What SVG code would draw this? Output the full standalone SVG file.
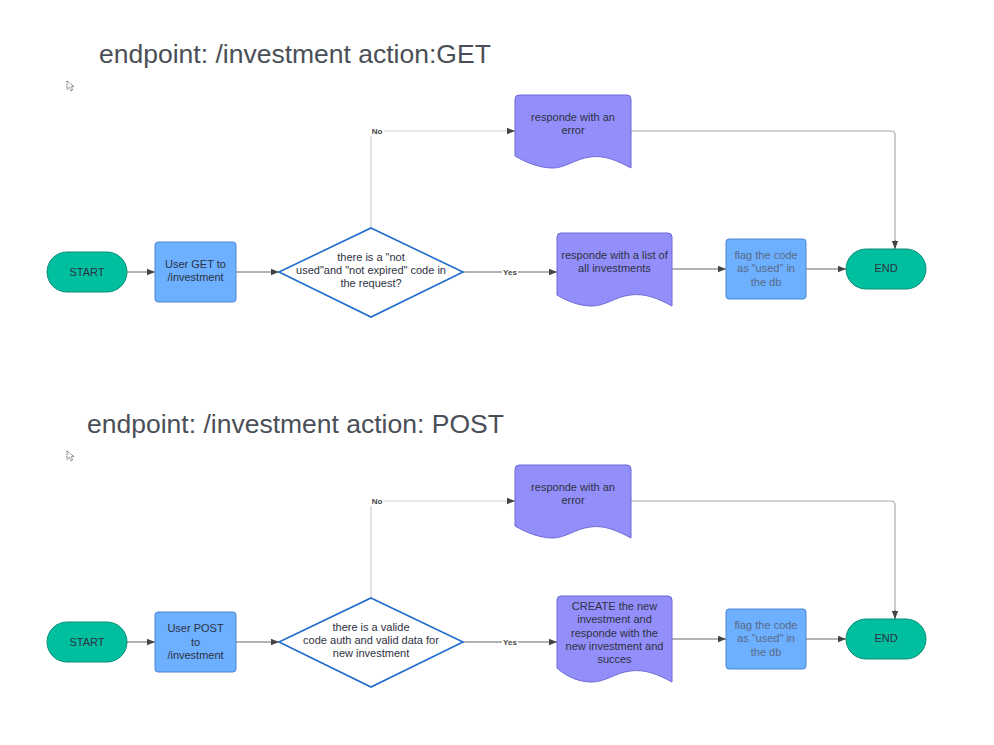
<svg xmlns="http://www.w3.org/2000/svg" width="994" height="745" viewBox="0 0 994 745">
<style>
.title{font-family:"Liberation Sans",Arial,sans-serif;font-size:26.5px;fill:#4a4f57}
.t{font-family:"Liberation Sans",Arial,sans-serif;font-size:11px;fill:#2d3142;text-anchor:middle}
.tf{font-family:"Liberation Sans",Arial,sans-serif;font-size:11px;fill:#5a6a86;text-anchor:middle}
.lbl{font-family:"Liberation Sans",Arial,sans-serif;font-size:8px;font-weight:bold;fill:#444;text-anchor:middle}
.term{fill:#00bf9f;stroke:#0f8d77;stroke-width:1}
.proc{fill:#6cb0ff;stroke:#4a86d6;stroke-width:1}
.doc{fill:#938ffa;stroke:#6e69d8;stroke-width:1}
.dec{fill:#ffffff;stroke:#1f6ccc;stroke-width:1.6}
.c{fill:none;stroke:#666;stroke-width:1}
.cl{fill:none;stroke:#cfcfcf;stroke-width:1.2}
.cb{fill:none;stroke:#aaa;stroke-width:1.2}
.cur{fill:#fff;stroke:#333;stroke-width:0.8;stroke-dasharray:1 0.6}
</style>
<defs>
<marker id="ah" viewBox="0 0 10 10" refX="10" refY="5" markerWidth="8" markerHeight="8" markerUnits="userSpaceOnUse" orient="auto">
<path d="M0,1 L10,5 L0,9 Z" fill="#444"/>
</marker>
</defs>
<rect width="994" height="745" fill="#ffffff"/>

<text class="title" x="99" y="63">endpoint: /investment action:GET</text>
<path class="cur" d="M67,81 L67,89.5 L69.3,87.4 L71,91 L72.6,90.2 L71,86.8 L74,86.6 Z"/>
<text class="title" x="87" y="433">endpoint: /investment action: POST</text>
<path class="cur" d="M67,451 L67,459.5 L69.3,457.4 L71,461 L72.6,460.2 L71,456.8 L74,456.6 Z"/>

<g id="connectors">
<!-- GET -->
<path class="c" d="M127,272 H155" marker-end="url(#ah)"/>
<path class="c" d="M236,272 H279" marker-end="url(#ah)"/>
<path class="cl" d="M371,228 V131 H515"/>
<path d="M507,131 H515" class="c" marker-end="url(#ah)"/>
<rect x="370" y="126" width="14" height="10" fill="#fff"/>
<text class="lbl" x="377" y="134">No</text>
<path class="c" d="M463,272 H557" marker-end="url(#ah)"/>
<rect x="502" y="267" width="16" height="10" fill="#fff"/>
<text class="lbl" x="510" y="275">Yes</text>
<path class="c" d="M672,269 H726" marker-end="url(#ah)"/>
<path class="c" d="M806,269 H846" marker-end="url(#ah)"/>
<path class="cb" d="M631,131 H891 Q895,131 895,135 V249"/>
<path class="c" d="M895,240 V249" marker-end="url(#ah)"/>
<!-- POST -->
<path class="c" d="M127,642 H155" marker-end="url(#ah)"/>
<path class="c" d="M236,642 H279" marker-end="url(#ah)"/>
<path class="cl" d="M371,598 V501 H515"/>
<path d="M507,501 H515" class="c" marker-end="url(#ah)"/>
<rect x="370" y="496" width="14" height="10" fill="#fff"/>
<text class="lbl" x="377" y="504">No</text>
<path class="c" d="M463,642 H557" marker-end="url(#ah)"/>
<rect x="502" y="637" width="16" height="10" fill="#fff"/>
<text class="lbl" x="510" y="645">Yes</text>
<path class="c" d="M672,639 H726" marker-end="url(#ah)"/>
<path class="c" d="M806,639 H846" marker-end="url(#ah)"/>
<path class="cb" d="M631,501 H891 Q895,501 895,505 V619"/>
<path class="c" d="M895,610 V619" marker-end="url(#ah)"/>
</g>

<!-- GET flow -->
<g id="get-start">
<rect class="term" x="47" y="252" width="80" height="40" rx="20"/>
<text class="t" x="87" y="276">START</text>
</g>
<g id="get-user">
<rect class="proc" x="155" y="242" width="81" height="60" rx="3"/>
<text class="t" x="195.5" y="268">User GET to</text>
<text class="t" x="195.5" y="281">/investment</text>
</g>
<g id="get-decision">
<polygon class="dec" points="371,228 463,272 371,317 279,272"/>
<text class="t" x="371" y="261">there is a "not</text>
<text class="t" x="371" y="274">used"and "not expired" code in</text>
<text class="t" x="371" y="287">the request?</text>
</g>
<g id="get-error">
<path class="doc" d="M515,99 Q515,95 519,95 H627 Q631,95 631,99 V168 C616,160 604,155 590,157 C575,159 565,168 553,168 C540,168 527,163 515,156 Z"/>
<text class="t" x="573" y="121">responde with an</text>
<text class="t" x="573" y="134">error</text>
</g>
<g id="get-list">
<path class="doc" d="M557,237 Q557,233 561,233 H668 Q672,233 672,237 V306 C657,298 645,293 630,295 C615,297 605,306 592,306 C579,306 567,301 557,295 Z"/>
<text class="t" x="614.5" y="259">responde with a list of</text>
<text class="t" x="614.5" y="272">all investments</text>
</g>
<g id="get-flag">
<rect class="proc" x="726" y="239" width="80" height="60" rx="3"/>
<text class="tf" x="766" y="259">flag the code</text>
<text class="tf" x="766" y="272">as "used" in</text>
<text class="tf" x="766" y="286">the db</text>
</g>
<g id="get-end">
<rect class="term" x="846" y="249" width="80" height="40" rx="20"/>
<text class="t" x="886" y="272">END</text>
</g>

<!-- POST flow -->
<g id="post-start">
<rect class="term" x="47" y="622" width="80" height="40" rx="20"/>
<text class="t" x="87" y="646">START</text>
</g>
<g id="post-user">
<rect class="proc" x="155" y="612" width="81" height="60" rx="3"/>
<text class="t" x="195.5" y="632">User POST</text>
<text class="t" x="195.5" y="646">to</text>
<text class="t" x="195.5" y="659">/investment</text>
</g>
<g id="post-decision">
<polygon class="dec" points="371,598 463,642 371,687 279,642"/>
<text class="t" x="371" y="631">there is a valide</text>
<text class="t" x="371" y="644">code auth and valid data for</text>
<text class="t" x="371" y="657">new investment</text>
</g>
<g id="post-error">
<path class="doc" d="M515,469 Q515,465 519,465 H627 Q631,465 631,469 V538 C616,530 604,525 590,527 C575,529 565,538 553,538 C540,538 527,533 515,526 Z"/>
<text class="t" x="573" y="491">responde with an</text>
<text class="t" x="573" y="504">error</text>
</g>
<g id="post-create">
<path class="doc" d="M557,600 Q557,596 561,596 H668 Q672,596 672,600 V682 C657,674 645,669 630,671 C615,673 605,682 592,682 C579,682 567,677 557,668 Z"/>
<text class="t" x="614.5" y="610">CREATE the new</text>
<text class="t" x="614.5" y="623">investment and</text>
<text class="t" x="614.5" y="637">responde with the</text>
<text class="t" x="614.5" y="650">new investment and</text>
<text class="t" x="614.5" y="663">succes</text>
</g>
<g id="post-flag">
<rect class="proc" x="726" y="609" width="80" height="60" rx="3"/>
<text class="tf" x="766" y="629">flag the code</text>
<text class="tf" x="766" y="642">as "used" in</text>
<text class="tf" x="766" y="656">the db</text>
</g>
<g id="post-end">
<rect class="term" x="846" y="619" width="80" height="40" rx="20"/>
<text class="t" x="886" y="642">END</text>
</g>
</svg>
